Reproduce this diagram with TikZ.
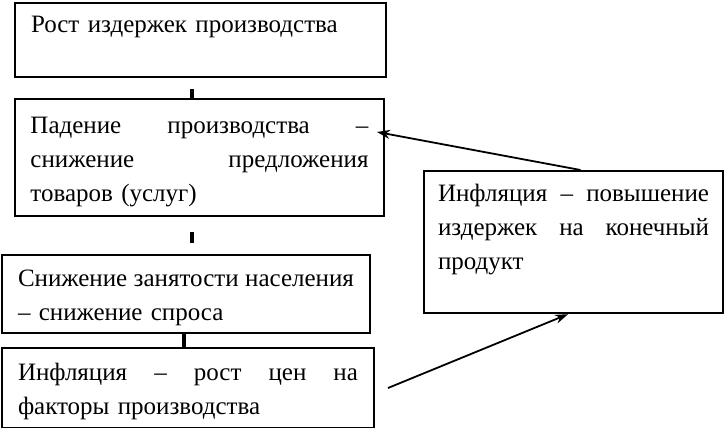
\documentclass[tikz,border=0pt]{standalone}
\usepackage{fontspec}
\setmainfont{Liberation Serif}
\usetikzlibrary{arrows.meta}
\setlength{\parindent}{0pt}

% строка по ширине блока
\newcommand{\jline}[1]{\leavevmode\strut\hbox to\hsize{#1}}
\newcommand{\boxfont}{\fontsize{25}{34}\selectfont}
\newcommand{\topstrut}{\rule{0pt}{30pt}}

\begin{document}
\begin{tikzpicture}[
        x = 1pt, y = 1pt,
        box/.style  = {rectangle, draw, line width=2pt, anchor=north west,
                       inner ysep=0pt, align=left, font=\boxfont,
                       execute at begin node=\topstrut, execute at end node=\strut},
        link/.style = {draw, line width=3.5pt},
        line/.style = {draw, line width=1.8pt, -{Stealth[length=13pt, width=9pt]}}
    ]
        \useasboundingbox (0,0) rectangle (724,-428);

        % блоки
        \node [box, text width=339pt, inner xsep=16pt, minimum height=74pt]  (rise) at (14,-2)
            {Рост издержек производства\\ \strut};
        \node [box, text width=338pt, inner xsep=15.5pt, minimum height=117pt] (fall) at (14,-98)
            {\jline{Падение\hfill производства\hfill –}\\
             \jline{снижение\hfill предложения}\\
             товаров (услуг)};
        \node [box, text width=336pt, inner xsep=16pt, minimum height=78pt]  (empl) at (1,-254)
            {\jline{Снижение\hfill занятости\hfill населения}\\
             – снижение спроса};
        \node [box, text width=340pt, inner xsep=16pt, minimum height=80pt]  (infl) at (1,-347)
            {\jline{Инфляция\hfill –\hfill рост\hfill цен\hfill на}\\
             факторы производства};
        \node [box, text width=271pt, inner xsep=14pt, minimum height=136pt] (cost) at (423,-170)
            {\jline{Инфляция\hfill –\hfill повышение}\\
             \jline{издержек\hfill на\hfill конечный}\\
             продукт\\ \strut};

        % связи
        \path [link, shorten <=11pt] ([xshift=-8.5pt]rise.south) -- ([xshift=-8.5pt]rise.south |- fall.north);
        \path [link, shorten <=15pt, shorten >=11pt] ([xshift=-7.5pt]fall.south) -- ([xshift=-7.5pt]fall.south |- empl.north);
        \path [link] ([xshift=-2pt]empl.south) -- ([xshift=-2pt]empl.south |- infl.north);

        % стрелки
        \path [line] ([xshift=7pt]cost.north) -- ([shift={(-8pt,25.5pt)}]fall.east);
        \path [line] ([xshift=13pt]infl.east) -- ([xshift=-5.5pt]cost.south);
\end{tikzpicture}
\end{document}
